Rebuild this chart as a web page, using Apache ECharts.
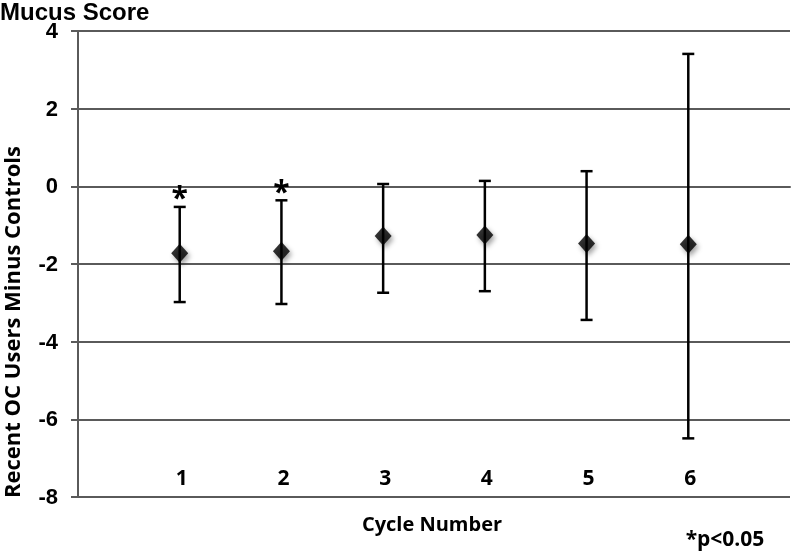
<!DOCTYPE html>
<html>
<head>
<meta charset="utf-8">
<script src="https://cdn.jsdelivr.net/npm/echarts@6/dist/echarts.min.js"></script>
<style>
html,body{margin:0;padding:0;background:#fff;}
#chart{width:791px;height:557px;}
</style>
</head>
<body>
<div id="chart"></div>
<script>
// Data
const cycles = [1, 2, 3, 4, 5, 6];
const means = [-1.72, -1.67, -1.28, -1.25, -1.47, -1.49];
const lower = [-2.98, -3.03, -2.74, -2.70, -3.44, -6.49];
const upper = [-0.53, -0.36, 0.06, 0.14, 0.39, 3.41];
const significant = [true, true, false, false, false, false];
const yTicks = [-8, -6, -4, -2, 0, 2, 4];

const chart = echarts.init(document.getElementById('chart'));

const pointData = cycles.map((c, i) => [c, means[i]]);
const barData = cycles.map((c, i) => [c, lower[i], upper[i]]);
const starData = cycles.map((c, i) => [c, upper[i], significant[i] ? 1 : 0]);
const yMin = yTicks[0];
const yLabelData = yTicks.map(v => [0, v]);
const xLabelData = cycles.map(c => [c, yMin]);

const axisColor = '#5a5a5a';
const ARIAL = '"Liberation Sans", Arial, sans-serif';
const CALIBRI = '"Open Sans", sans-serif';

chart.setOption({
  animation: false,
  backgroundColor: '#fff',
  grid: { left: 78, right: 1, top: 31, bottom: 60, containLabel: false },
  xAxis: {
    type: 'value',
    min: 0, max: 7, interval: 1,
    axisLine: { show: true, lineStyle: { color: axisColor, width: 2 } },
    axisTick: { show: false },
    splitLine: { show: false },
    axisLabel: { show: false }
  },
  yAxis: {
    type: 'value',
    min: yMin, max: yTicks[yTicks.length - 1], interval: 2,
    axisLine: { show: true, lineStyle: { color: axisColor, width: 2 } },
    axisTick: { show: true, length: 7, lineStyle: { color: axisColor, width: 2 } },
    splitLine: { show: true, lineStyle: { color: axisColor, width: 2 } },
    axisLabel: { show: false }
  },
  series: [
    {
      type: 'custom',
      name: 'yLabels',
      data: yLabelData,
      clip: false,
      silent: true,
      renderItem: function (params, api) {
        const p = api.coord([api.value(0), api.value(1)]);
        return {
          type: 'text',
          style: {
            text: String(api.value(1)),
            x: p[0] - 20, y: p[1] + 1,
            align: 'right', verticalAlign: 'middle',
            font: 'bold 22px ' + ARIAL, fill: '#000'
          }
        };
      }
    },
    {
      type: 'custom',
      name: 'xLabels',
      data: xLabelData,
      clip: false,
      silent: true,
      renderItem: function (params, api) {
        const p = api.coord([api.value(0), api.value(1)]);
        return {
          type: 'text',
          style: {
            text: String(api.value(0)),
            x: p[0] + 2, y: p[1] - 18,
            align: 'center', verticalAlign: 'middle',
            font: 'bold 21px ' + CALIBRI, fill: '#000'
          }
        };
      }
    },
    {
      type: 'custom',
      name: 'errors',
      data: barData,
      z: 3,
      renderItem: function (params, api) {
        const x = api.value(0);
        const lo = api.coord([x, api.value(1)]);
        const hi = api.coord([x, api.value(2)]);
        const cap = 6;
        const style = { stroke: '#000', lineWidth: 2.5 };
        return {
          type: 'group',
          children: [
            { type: 'line', shape: { x1: lo[0], y1: lo[1], x2: hi[0], y2: hi[1] }, style: style },
            { type: 'line', shape: { x1: lo[0] - cap, y1: lo[1], x2: lo[0] + cap, y2: lo[1] }, style: style },
            { type: 'line', shape: { x1: hi[0] - cap, y1: hi[1], x2: hi[0] + cap, y2: hi[1] }, style: style }
          ]
        };
      }
    },
    {
      type: 'scatter',
      name: 'mean',
      data: pointData,
      symbol: 'diamond',
      symbolSize: [17, 19],
      z: 4,
      itemStyle: {
        color: '#000',
        shadowColor: 'rgba(0,0,0,0.45)',
        shadowBlur: 5,
        shadowOffsetX: 2,
        shadowOffsetY: 3
      }
    },
    {
      type: 'custom',
      name: 'stars',
      data: starData,
      z: 5,
      renderItem: function (params, api) {
        if (!api.value(2)) return null;
        const p = api.coord([api.value(0), api.value(1)]);
        return {
          type: 'text',
          style: {
            text: '*',
            x: p[0],
            y: p[1] + 8,
            align: 'center',
            verticalAlign: 'bottom',
            font: 'bold 30px ' + CALIBRI,
            fill: '#000'
          }
        };
      }
    }
  ],
  graphic: [
    {
      type: 'text', left: 0, top: 1,
      style: { text: 'Mucus Score', font: 'bold 24px ' + ARIAL, fill: '#000' }
    },
    {
      type: 'text', x: 14, y: 322, rotation: Math.PI / 2,
      style: {
        text: 'Recent OC Users Minus Controls', align: 'center', verticalAlign: 'middle',
        font: 'bold 22px ' + CALIBRI, fill: '#000'
      }
    },
    {
      type: 'text', x: 432, y: 525,
      style: {
        text: 'Cycle Number', align: 'center', verticalAlign: 'middle',
        font: 'bold 20px ' + CALIBRI, fill: '#000'
      }
    },
    {
      type: 'text', x: 725, y: 540,
      style: {
        text: '*p<0.05', align: 'center', verticalAlign: 'middle',
        font: 'bold 21px ' + CALIBRI, fill: '#000'
      }
    }
  ]
});
</script>
</body>
</html>
